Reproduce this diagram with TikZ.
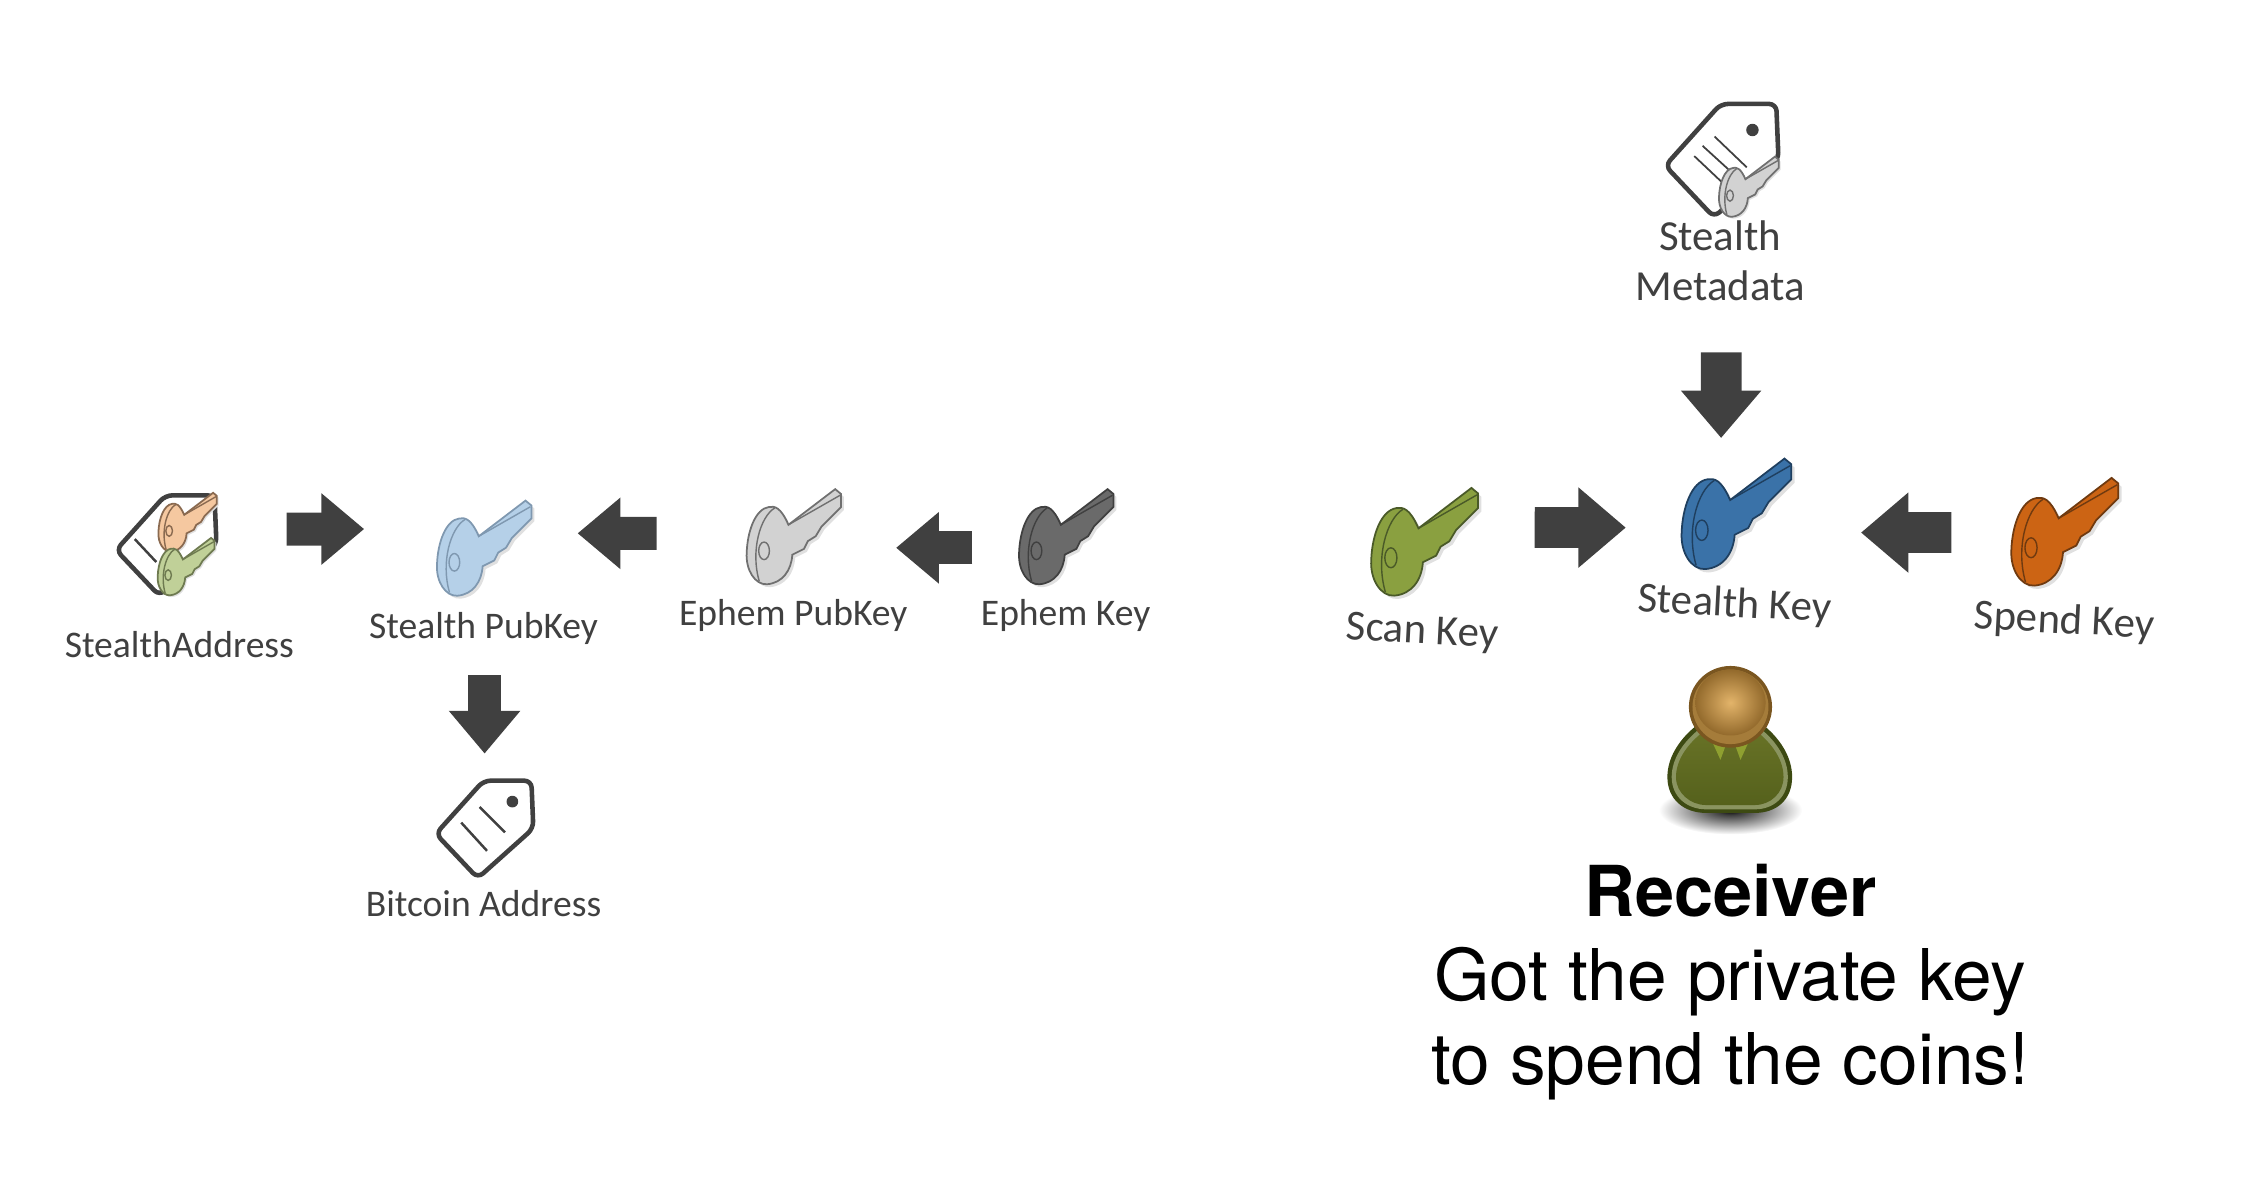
\documentclass[tikz,border=0pt]{standalone}
\usepackage{fontspec}
\setmainfont{TeX Gyre Heros}
\newfontfamily\keyfont{Carlito}
\usepackage{tikz}
\usetikzlibrary{arrows.meta, calc, positioning}
\definecolor{arrowgrey}{HTML}{404040}
\definecolor{pubblue}{HTML}{B5D0E8}
\definecolor{pubblueline}{HTML}{7F98B0}
\definecolor{ephlight}{HTML}{D2D2D2}
\definecolor{ephlightline}{HTML}{707070}
\definecolor{ephdark}{HTML}{6A6A6A}
\definecolor{scangreen}{HTML}{8AA040}
\definecolor{scanline}{HTML}{4A5A28}
\definecolor{stealthblue}{HTML}{3A72A8}
\definecolor{stealthline}{HTML}{1F3F5F}
\definecolor{spendorange}{HTML}{CC6414}
\definecolor{spendline}{HTML}{6F3A10}
\definecolor{peach}{HTML}{F5C8A0}
\definecolor{peachline}{HTML}{8A6A50}
\definecolor{palegreen}{HTML}{C0D098}
\definecolor{palegreenline}{HTML}{6E7A50}
\definecolor{bodyline}{HTML}{3D4A12}
\definecolor{bodyrim}{HTML}{8A9460}
\definecolor{bodytop}{HTML}{6B7528}
\definecolor{bodybottom}{HTML}{55611C}
\definecolor{collar}{HTML}{8FA030}
\definecolor{headline}{HTML}{7A5620}
\definecolor{headrim}{HTML}{A57C3A}
\definecolor{headlight}{HTML}{E3B46A}
\definecolor{headdark}{HTML}{936A2C}
\pgfdeclareradialshading{floorshade}{\pgfpoint{0bp}{0bp}}{color(0bp)=(black); color(5bp)=(black!75); color(25bp)=(white); color(50bp)=(white)}
\newcommand{\keypath}{(-.26,-.30) .. controls (-.20,-.31) and (-.14,-.30) .. (-.06,-.117) -- (.42,-.483) -- (.48,-.433) -- (.48,-.30) -- (.28,-.10) -- (.22,0) -- (.14,.05) -- (.10,.13) -- (-.02,.19) .. controls (-.03,.35) and (-.12,.48) .. (-.28,.493) .. controls (-.40,.50) and (-.50,.35) .. (-.488,.167) .. controls (-.48,-.05) and (-.40,-.28) .. (-.26,-.30) -- cycle}
\tikzset{
  icon/.style={minimum size=#1*0.408pt, inner sep=0pt, outer sep=0pt},
  keylabel/.style={font=\keyfont\fontsize{10.7}{12}\selectfont, text=arrowgrey, inner sep=0pt, text height=8pt, text depth=2.5pt},
  biglabel/.style={keylabel, font=\keyfont\fontsize{12.2}{12}\selectfont},
  smallarrow/.style={draw=arrowgrey, line width=9.4pt, -{Triangle[length=12.2pt, width=19.6pt]}},
  largearrow/.style={draw=arrowgrey, line width=11.6pt, -{Triangle[length=13.5pt, width=22pt]}},
  tagline/.style={draw=arrowgrey, line width=1.3pt, line join=round},
  keyicon/.pic={
    \path[fill=black!12, shift={(.03,.03)}] \keypath;
    \path[pic actions, line width=.5pt] \keypath;
    \path[pic actions, fill=none, line width=.4pt] (-.20,-.29) .. controls (-.35,-.2) and (-.45,.15) .. (-.36,.46);
    \path[pic actions, fill=none, line width=.4pt] (-.06,-.117) -- (.47,-.42);
    \path[pic actions, fill=none, line width=.4pt] (-.31,.15) ellipse[x radius=.055, y radius=.09];
  },
  tagicon/.pic={
    \path[tagline, fill=white, rounded corners=2pt] (-.01,-.5) -- (.48,-.5) -- (.5,-.01) -- (-.07,.5) -- (-.5,.045) -- cycle;
  },
  tagmarks/.pic={
    \fill[arrowgrey] (.285,-.285) circle[radius=.06];
    \draw[arrowgrey, line width=.7pt] (-.05,-.23) -- (.21,.03);
    \draw[arrowgrey, line width=.7pt] (-.24,-.07) -- (.025,.22);
  },
  metamarks/.pic={
    \fill[arrowgrey] (.27,-.27) circle[radius=.055];
    \draw[arrowgrey, line width=.5pt] (-.064,-.212) -- (.22,.06);
    \draw[arrowgrey, line width=.5pt] (-.17,-.13) -- (.115,.13);
    \draw[arrowgrey, line width=.5pt] (-.244,-.04) -- (.01,.20);
  }
}
\begin{document}
\begin{tikzpicture}[x=0.014337cm, y=-0.014337cm]
  \useasboundingbox (0,0) rectangle (1568,829);

  \node[icon=70] (addr) at (116,380.5) {};
  \pic[scale=70] at (addr) {tagicon};
  \draw[arrowgrey, line width=.7pt] (94,376) -- (109,392);
  \pic[scale=42, fill=peach, draw=peachline] at (131,364) {keyicon};
  \pic[scale=41, fill=palegreen, draw=palegreenline] at (130,395) {keyicon};
  \node[keylabel, below=9.3pt of addr, xshift=3.7pt] (addrlabel) {StealthAddress};

  \node[icon=68] (pubkey) at (338,382) {};
  \pic[scale=68, fill=pubblue, draw=pubblueline] at (pubkey) {keyicon};
  \node[keylabel, below=3.9pt of pubkey, xshift=-.3pt] (pubkeylabel) {Stealth PubKey};

  \node[icon=68] (ephpub) at (554,374) {};
  \pic[scale=68, fill=ephlight, draw=ephlightline] at (ephpub) {keyicon};
  \node[keylabel, below=3.3pt of ephpub, xshift=-.3pt] (ephpublabel) {Ephem PubKey};

  \node[icon=68] (ephem) at (744,374) {};
  \pic[scale=68, fill=ephdark, draw=arrowgrey] at (ephem) {keyicon};
  \node[keylabel, below=3.3pt of ephem, xshift=-.3pt] (ephemlabel) {Ephem Key};

  \node[icon=68] (btc) at (338,578.5) {};
  \pic[scale=68] at (btc) {tagicon};
  \pic[scale=68] at (btc) {tagmarks};
  \node[keylabel, below=2.6pt of btc, xshift=-.3pt] (btclabel) {Bitcoin Address};

  \node[icon=79] (meta) at (1201,112) {};
  \pic[scale=79] at (meta) {tagicon};
  \pic[scale=79] at (meta) {metamarks};
  \pic[scale=43, fill=ephlight, draw=ephlightline] at (1220,130) {keyicon};
  \node[biglabel, align=center, below=.7pt of meta, xshift=-.5pt, text height=, text depth=] (metalabel) {Stealth\\[2.3pt]Metadata};

  \node[icon=77] (scan) at (994,377.5) {};
  \pic[scale=77, fill=scangreen, draw=scanline] at (scan) {keyicon};
  \node[biglabel, below=5.3pt of scan, xshift=-.6pt, rotate=-3] (scanlabel) {Scan Key};

  \node[icon=79] (stealth) at (1211.5,358) {};
  \pic[scale=79, fill=stealthblue, draw=stealthline] at (stealth) {keyicon};
  \node[biglabel, below=5.2pt of stealth, xshift=-.4pt, rotate=-3] (stealthlabel) {Stealth Key};

  \node[icon=77] (spend) at (1440.5,370.5) {};
  \pic[scale=77, fill=spendorange, draw=spendline] at (spend) {keyicon};
  \node[biglabel, below=5.2pt of spend, rotate=-3] (spendlabel) {Spend Key};

  \draw[smallarrow, shorten <=20pt, shorten >=20.4pt] ([yshift=4.7pt]addr.east) -- ([yshift=5.3pt]pubkey.west);
  \draw[smallarrow, shorten <=25.3pt, shorten >=12.6pt] ([yshift=.8pt]ephpub.west) -- ([yshift=4.1pt]pubkey.east);
  \draw[smallarrow, shorten <=13pt, shorten >=15.1pt] ([yshift=-3.3pt]ephem.west) -- ([yshift=-3.3pt]ephpub.east);
  \draw[smallarrow, shorten <=22.4pt, shorten >=7.7pt] (pubkey.south) -- (btc.north);
  \draw[largearrow, shorten <=38.5pt, shorten >=5.3pt] ([xshift=-.2pt]meta.south) -- ([xshift=-4.5pt]stealth.north);
  \draw[largearrow, shorten <=15.5pt, shorten >=15.5pt] ([yshift=3.9pt]scan.east) -- ([yshift=-4.1pt]stealth.west);
  \draw[largearrow, shorten <=16.7pt, shorten >=19.2pt] ([yshift=-.4pt]spend.west) -- ([yshift=-5.5pt]stealth.east);

  \path[shading=floorshade] (1207,565) ellipse[x radius=50, y radius=17];
  \fill[bodyline] (1207,495) .. controls (1195,495) and (1163,515) .. (1163,542) .. controls (1163,558) and (1175,567) .. (1190,567) -- (1224,567) .. controls (1239,567) and (1250,558) .. (1250,542) .. controls (1250,515) and (1219,495) .. (1207,495) -- cycle;
  \fill[bodyrim] (1207,498) .. controls (1197,498) and (1166,517) .. (1166,542) .. controls (1166,556) and (1177,564.5) .. (1190,564.5) -- (1224,564.5) .. controls (1237,564.5) and (1247,556) .. (1247,542) .. controls (1247,517) and (1217,498) .. (1207,498) -- cycle;
  \shade[top color=bodytop, bottom color=bodybottom] (1207,501) .. controls (1199,501) and (1169,519) .. (1169,542) .. controls (1169,553) and (1179,561.5) .. (1190,561.5) -- (1224,561.5) .. controls (1235,561.5) and (1244,553) .. (1244,542) .. controls (1244,519) and (1215,501) .. (1207,501) -- cycle;
  \fill[collar] (1195,519) -- (1204,519) -- (1200,530) -- cycle;
  \fill[collar] (1210,519) -- (1219,519) -- (1214,530) -- cycle;
  \fill[headline] (1207,493) ellipse[x radius=29, y radius=28.5];
  \fill[headrim] (1207,493) ellipse[x radius=26.5, y radius=26];
  \shade[inner color=headlight, outer color=headdark] (1207,490) ellipse[x radius=24.5, y radius=23];

  \node[align=center, font=\fontsize{20.3}{24}\selectfont, inner sep=0pt] (receiver) at (1207,685) {\fontsize{20}{24}\selectfont\textbf{Receiver}\\Got the private key\\to spend the coins!};
\end{tikzpicture}
\end{document}
